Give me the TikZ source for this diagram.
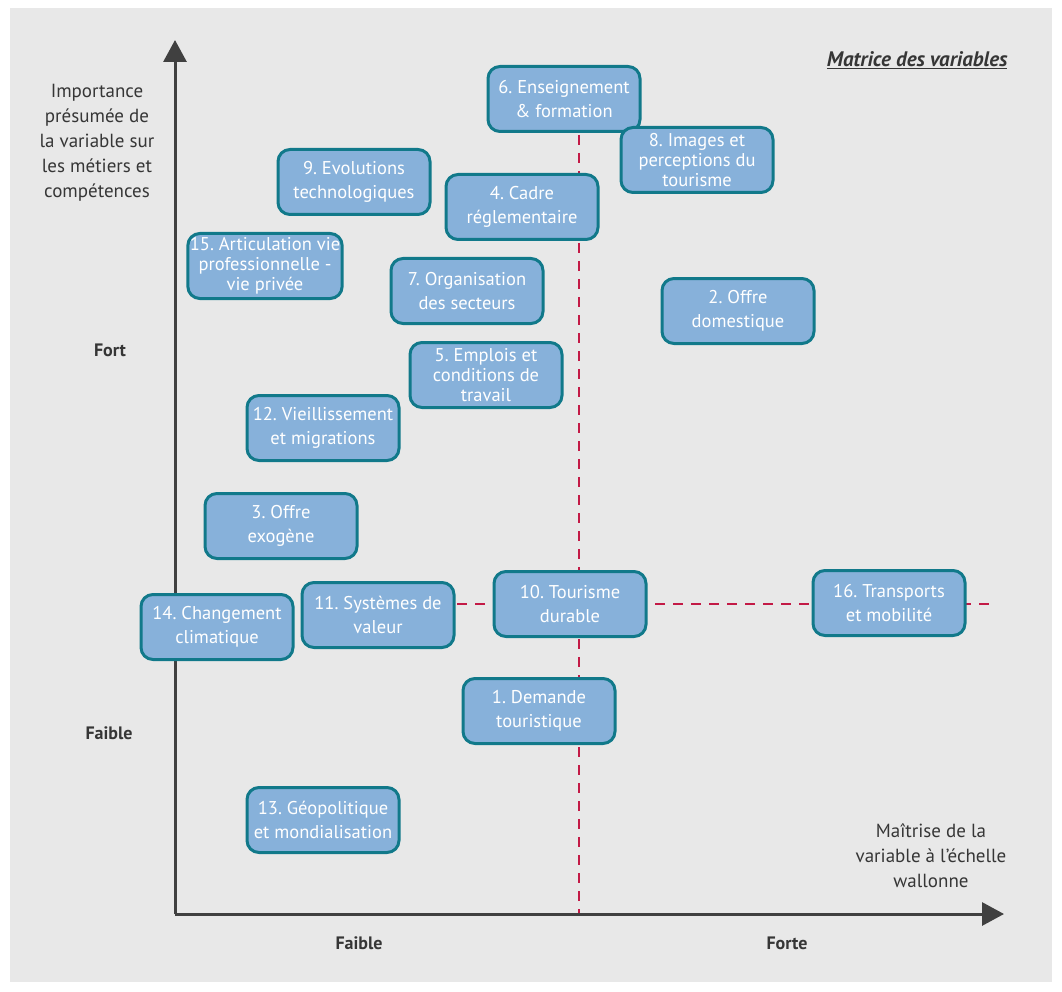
\documentclass[tikz,border=0pt]{standalone}
\usepackage{fontspec}
\setmainfont{PT Sans}
\usetikzlibrary{arrows.meta}
\definecolor{bgrey}{HTML}{E8E8E8}
\definecolor{boxblue}{HTML}{87B1DA}
\definecolor{boxedge}{HTML}{11798A}
\definecolor{axisgrey}{HTML}{404040}
\definecolor{labgrey}{HTML}{363636}
\definecolor{dashred}{HTML}{C31A46}
\frenchspacing
\tikzset{>=latex}
\tikzset{
  var/.style={draw=boxedge, fill=boxblue, line width=3pt, rounded corners=12pt,
    text=white, align=center, minimum width=152pt, minimum height=65pt,
    inner xsep=2pt, inner ysep=2pt, font=\fontsize{18.5}{23.5}\selectfont},
  varthree/.style={var, font=\fontsize{18.5}{20}\selectfont},
  axis/.style={draw=axisgrey, line width=3pt, -{Triangle[length=22pt,width=23pt]}},
  split/.style={draw=dashred, line width=2.5pt, dash pattern=on 10pt off 8pt},
  ticklab/.style={text=labgrey, font=\fontsize{18}{22}\selectfont\bfseries},
  axislab/.style={text=labgrey, align=center, font=\fontsize{19}{25}\selectfont}
}
\begin{document}
\begin{tikzpicture}[x=1pt,y=-1pt]
	\useasboundingbox (0,0) rectangle (1062,992);
	\fill[bgrey] (10,8) rectangle (1052,982);

	% quadrants
	\coordinate (vtop) at (579,135);
	\coordinate (vbot) at (579,914);
	\coordinate (hleft) at (457,604);
	\coordinate (hright) at (990,604);
	\draw[split] (vtop) -- (vbot);
	\draw[split] (hleft) -- (hright);

	% axes
	\coordinate (origin) at (175,914);
	\coordinate (ytip) at (175,40);
	\coordinate (xtip) at (1004,914);
	\draw[axis] (origin) -- (ytip);
	\draw[axis] (origin) -- (xtip);

	\node[axislab] (ylab) at (97,143) {Importance\\présumée de\\la variable sur\\les métiers et\\compétences};
	\node[axislab] (xlab) at (931,856) {Maîtrise de la\\variable à l’échelle\\wallonne};
	\node[ticklab] (yfort) at (110,350) {Fort};
	\node[ticklab] (yfaible) at (109,733) {Faible};
	\node[ticklab] (xfaible) at (359,943) {Faible};
	\node[ticklab] (xforte) at (787,943) {Forte};
	\node[text=labgrey, anchor=east, font=\fontsize{21}{24}\selectfont\bfseries\itshape] (title) at (1011,60) {\underline{Matrice des variables}};

	% variables
	\node[var] (v6) at (564,99) {6. Enseignement\\\& formation};
	\node[varthree] (v8) at (697,160) {8. Images et\\perceptions du\\tourisme};
	\node[var] (v9) at (354,182) {9. Evolutions\\technologiques};
	\node[var] (v4) at (522,207) {4. Cadre\\réglementaire};
	\node[varthree] (v15) at (265,266) {15. Articulation vie\\professionnelle -\\vie privée};
	\node[var] (v7) at (467,291) {7. Organisation\\des secteurs};
	\node[var] (v2) at (738,311) {2. Offre\\domestique};
	\node[varthree] (v5) at (486,375) {5. Emplois et\\conditions de\\travail};
	\node[var] (v12) at (323,428) {12. Vieillissement\\et migrations};
	\node[var] (v3) at (281,526) {3. Offre\\exogène};
	\node[var] (v10) at (570,604) {10. Tourisme\\durable};
	\node[var] (v16) at (889,603) {16. Transports\\et mobilité};
	\node[var] (v11) at (378,615) {11. Systèmes de\\valeur};
	\node[var] (v14) at (217,627) {14. Changement\\climatique};
	\node[var] (v1) at (539,711) {1. Demande\\touristique};
	\node[var] (v13) at (323,820) {13. Géopolitique\\et mondialisation};
\end{tikzpicture}
\end{document}
